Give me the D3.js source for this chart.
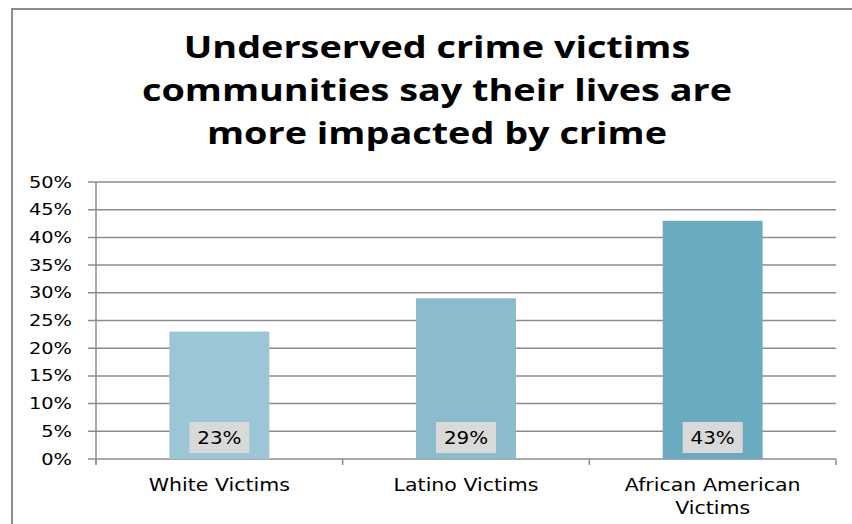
<!DOCTYPE html>
<html>
<head>
<meta charset="utf-8">
<script src="https://cdn.jsdelivr.net/npm/d3@7"></script>
<style>
    body { margin: 0; background: #fff; }
    svg { display: block; }
    text { font-family: "DejaVu Sans", sans-serif; fill: #000; }
</style>
</head>
<body>
<div id="chart"></div>
<script>
'use strict';

// Data
const titleLines = ['Underserved crime victims', 'communities say their lives are', 'more impacted by crime'];
const categories = ['White Victims', 'Latino Victims', 'African American Victims'];
const values = [0.23, 0.29, 0.43];
const barColors = ['#9BC6D5', '#8ABCCC', '#6AABBF'];
const yTicks = [0, 0.05, 0.10, 0.15, 0.20, 0.25, 0.30, 0.35, 0.40, 0.45, 0.50];

// Config
const svgW = 852;
const svgH = 524;
const margin = {top: 182, right: 16, bottom: 65, left: 96};
const gW = svgW - margin.left - margin.right;
const gH = svgH - margin.top - margin.bottom;

const svg = d3.select('#chart')
    .append('svg')
    .attr('width', svgW)
    .attr('height', svgH);

// Outer frame
svg.append('rect')
    .attr('x', 12)
    .attr('y', 9)
    .attr('width', svgW + 20)
    .attr('height', svgH + 20)
    .attr('fill', 'none')
    .attr('stroke', '#8c8c8c')
    .attr('stroke-width', 2);

// Title (reference text is drawn wide, so stretch it)
svg.append('g')
    .attr('transform', `translate(437,0) scale(1.22,1)`)
    .append('text')
    .attr('text-anchor', 'middle')
    .style('font-family', '"Open Sans", sans-serif')
    .style('font-weight', 'bold')
    .style('font-size', '31px')
    .selectAll('tspan')
    .data(titleLines)
    .join('tspan')
    .attr('x', 0)
    .attr('y', (d, i) => 58 + i * 43)
    .text(d => d);

const g = svg.append('g')
    .attr('transform', `translate(${margin.left},${margin.top})`);

// Scales
const x = d3.scaleBand().domain(categories).range([0, gW]).paddingInner(0.595).paddingOuter(0.2975);
const y = d3.scaleLinear().domain([0, 0.5]).range([gH, 0]);

// Gridlines
g.selectAll('.grid')
    .data(yTicks)
    .join('line')
    .attr('class', 'grid')
    .attr('x1', -8)
    .attr('x2', gW)
    .attr('y1', d => y(d))
    .attr('y2', d => y(d))
    .attr('stroke', '#8c8c8c')
    .attr('stroke-width', 1.5);

// Y axis labels
g.selectAll('.ylab')
    .data(yTicks)
    .join('text')
    .attr('class', 'ylab')
    .attr('text-anchor', 'end')
    .attr('dy', '0.36em')
    .attr('transform', d => `translate(-24,${y(d)}) scale(1.25,1)`)
    .style('font-size', '15.5px')
    .text(d => d3.format('.0%')(d));

g.append('line')
    .attr('x1', 0).attr('x2', 0)
    .attr('y1', 0).attr('y2', gH + 5)
    .attr('stroke', '#8c8c8c')
    .attr('stroke-width', 1.5);

// X category ticks
g.selectAll('.xtick')
    .data(d3.range(categories.length + 1))
    .join('line')
    .attr('class', 'xtick')
    .attr('x1', d => d * gW / categories.length)
    .attr('x2', d => d * gW / categories.length)
    .attr('y1', gH)
    .attr('y2', gH + 6)
    .attr('stroke', '#8c8c8c')
    .attr('stroke-width', 1.5);

// Bars
const bars = g.selectAll('.barG')
    .data(categories)
    .join('g')
    .attr('class', 'barG');

bars.append('rect')
    .attr('x', d => x(d))
    .attr('y', (d, i) => y(values[i]))
    .attr('width', x.bandwidth())
    .attr('height', (d, i) => gH - y(values[i]))
    .attr('fill', (d, i) => barColors[i]);

// Value labels
bars.append('rect')
    .attr('x', d => x(d) + x.bandwidth() / 2 - 30)
    .attr('y', gH - 37)
    .attr('width', 60)
    .attr('height', 31)
    .attr('fill', '#d9d9d9');

bars.append('text')
    .attr('transform', d => `translate(${x(d) + x.bandwidth() / 2},${gH - 15}) scale(1.17,1)`)
    .attr('text-anchor', 'middle')
    .style('font-size', '17px')
    .text((d, i) => d3.format('.0%')(values[i]));

// Category labels
const catLines = {'African American Victims': ['African American', 'Victims']};
bars.append('text')
    .attr('transform', d => `translate(${x(d) + x.bandwidth() / 2},${gH + 32}) scale(1.14,1)`)
    .attr('text-anchor', 'middle')
    .style('font-size', '18px')
    .selectAll('tspan')
    .data(d => catLines[d] || [d])
    .join('tspan')
    .attr('x', 0)
    .attr('y', (d, i) => i * 23)
    .text(d => d);
</script>
</body>
</html>
